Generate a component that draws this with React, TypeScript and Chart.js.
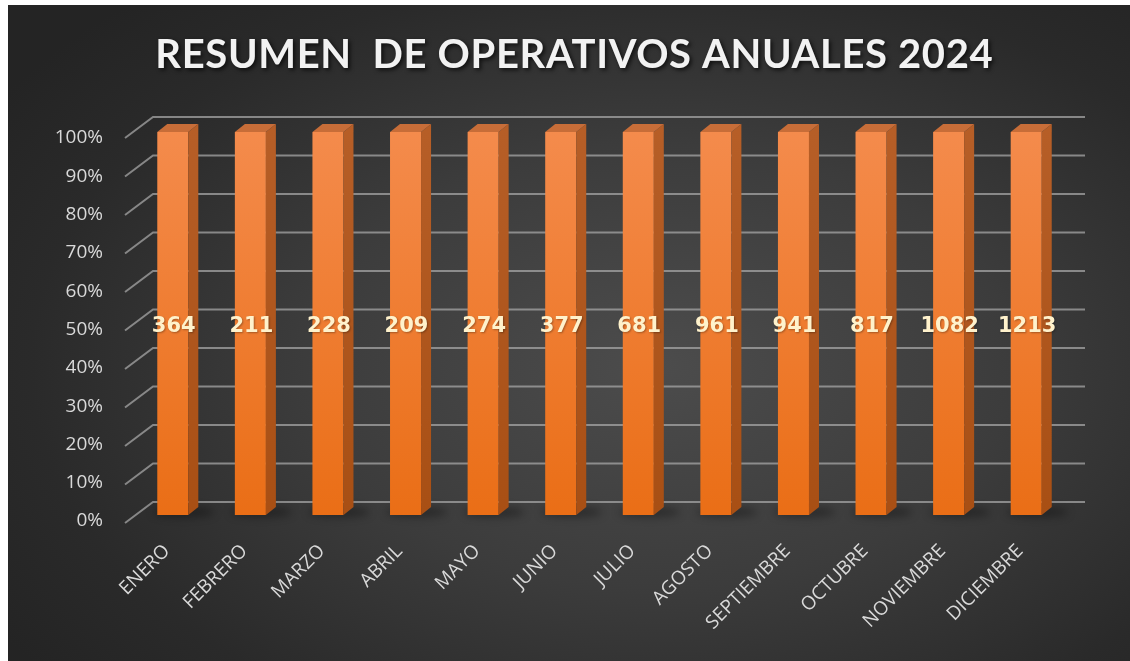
import React, { useEffect, useRef } from "react";
import { Chart, registerables } from "chart.js";

Chart.register(...registerables);

// ---- data ----
const months = [
  "ENERO",
  "FEBRERO",
  "MARZO",
  "ABRIL",
  "MAYO",
  "JUNIO",
  "JULIO",
  "AGOSTO",
  "SEPTIEMBRE",
  "OCTUBRE",
  "NOVIEMBRE",
  "DICIEMBRE",
];
const operativos = [364, 211, 228, 209, 274, 377, 681, 961, 941, 817, 1082, 1213];
const allSeries = [operativos];
const stackTotals = months.map((_, i) => allSeries.reduce((s, arr) => s + arr[i], 0));
const percentValues = operativos.map((v, i) => (v / stackTotals[i]) * 100);
const yTickStep = 10;
const titleText = "RESUMEN  DE OPERATIVOS ANUALES 2024";

const W = 1122;
const H = 656;

const DX = 10;
const DY = 8;

const bar3dPlugin = {
  id: "bar3d",
  beforeDraw(chart: any) {
    const { ctx } = chart;
    ctx.save();
    ctx.font = '700 40px Lato';
    const chars = titleText.length;
    const base = ctx.measureText(titleText).width;
    const ls = Math.max(0, (838 - base) / chars);
    (ctx as any).letterSpacing = ls + "px";
    ctx.textAlign = "center";
    ctx.textBaseline = "middle";
    ctx.fillStyle = "#F2F2F2";
    ctx.shadowColor = "rgba(0,0,0,0.7)";
    ctx.shadowBlur = 4;
    ctx.shadowOffsetX = 2;
    ctx.shadowOffsetY = 2;
    ctx.fillText(titleText, 566 + ls / 2, 50);
    ctx.restore();
  },
  beforeDatasetsDraw(chart: any) {
    const { ctx, scales } = chart;
    const y = scales.y;
    const area = chart.chartArea;
    ctx.save();
    ctx.strokeStyle = "rgba(165,165,165,0.75)";
    ctx.lineWidth = 2;
    y.ticks.forEach((t: any) => {
      const fy = y.getPixelForValue(t.value);
      const by = fy - 13 - 2 * (t.value / 100);
      ctx.beginPath();
      ctx.moveTo(area.left - 9, by + 21);
      ctx.lineTo(area.left + 19, by);
      ctx.lineTo(area.right + 20, by);
      ctx.stroke();
    });
    // base shadows
    const meta = chart.getDatasetMeta(0);
    meta.data.forEach((bar: any) => {
      const x1 = bar.x - bar.width / 2;
      const x2 = bar.x + bar.width / 2;
      ctx.save();
      ctx.filter = "blur(4px)";
      ctx.fillStyle = "rgba(0,0,0,0.35)";
      ctx.beginPath();
      ctx.ellipse((x1 + x2 + DX) / 2 + 6, bar.base - 3, (x2 - x1 + DX) / 2 + 10, 5, 0, 0, Math.PI * 2);
      ctx.fill();
      ctx.restore();
    });
    ctx.restore();
  },
  afterDatasetsDraw(chart: any) {
    const { ctx } = chart;
    const meta = chart.getDatasetMeta(0);
    ctx.save();
    meta.data.forEach((bar: any) => {
      const x1 = bar.x - bar.width / 2;
      const x2 = bar.x + bar.width / 2;
      const top = bar.y;
      const bottom = bar.base;
      // side face
      const sg = ctx.createLinearGradient(0, top, 0, bottom);
      sg.addColorStop(0, "#B65E27");
      sg.addColorStop(1, "#A84F14");
      ctx.fillStyle = sg;
      ctx.beginPath();
      ctx.moveTo(x2, top);
      ctx.lineTo(x2 + DX, top - DY);
      ctx.lineTo(x2 + DX, bottom - DY);
      ctx.lineTo(x2, bottom);
      ctx.closePath();
      ctx.fill();
      // top face
      ctx.fillStyle = "#C76D38";
      ctx.beginPath();
      ctx.moveTo(x1, top);
      ctx.lineTo(x1 + DX, top - DY);
      ctx.lineTo(x2 + DX, top - DY);
      ctx.lineTo(x2, top);
      ctx.closePath();
      ctx.fill();
    });
    // data labels
    ctx.font = 'bold 21px "DejaVu Sans"';
    ctx.textAlign = "center";
    ctx.textBaseline = "middle";
    ctx.fillStyle = "#FFF2CC";
    ctx.shadowColor = "rgba(0,0,0,0.3)";
    ctx.shadowBlur = 2;
    ctx.shadowOffsetX = 1;
    ctx.shadowOffsetY = 1;
    meta.data.forEach((bar: any, i: number) => {
      ctx.fillText(String(operativos[i]), bar.x + 1, (bar.y + bar.base) / 2 + 3);
    });
    ctx.restore();
  },
};

export default function App() {
  const ref = useRef<HTMLCanvasElement | null>(null);
  useEffect(() => {
    if (!ref.current) return;
    const chart = new Chart(ref.current, {
      type: "bar",
      data: {
        labels: months,
        datasets: [
          {
            label: "Operativos",
            data: percentValues,
            backgroundColor: (c: any) => {
              const area = c.chart.chartArea;
              if (!area) return "#ED7D31";
              const g = c.chart.ctx.createLinearGradient(0, area.top, 0, area.bottom);
              g.addColorStop(0, "#F48B4C");
              g.addColorStop(1, "#EA6E16");
              return g;
            },
            borderWidth: 0,
            barPercentage: 0.4,
            categoryPercentage: 1,
          },
        ],
      },
      options: {
        responsive: false,
        animation: false,
        layout: { padding: { left: 0, right: 65, top: 127, bottom: 0 } },
        plugins: {
          legend: { display: false },
          title: { display: false },
          tooltip: { enabled: false },
        },
        scales: {
          x: {
            grid: { display: false },
            border: { display: false },
            ticks: {
              color: "#D9D9D9",
              font: { family: '"Open Sans"', size: 19 },
              maxRotation: 45,
              minRotation: 45,
              autoSkip: false,
              padding: 17,
              labelOffset: -6,
            },
            afterFit: (s: any) => {
              s.height = 146;
            },
          },
          y: {
            min: 0,
            max: 100,
            grid: { display: false, drawTicks: false },
            border: { display: false },
            ticks: {
              stepSize: yTickStep,
              color: "#D9D9D9",
              font: { family: '"Open Sans"', size: 19 },
              padding: 31,
              labelOffset: 6,
              callback: (v: any) => v + "%",
            },
            afterFit: (s: any) => {
              s.width = 126;
            },
          },
        },
      },
      plugins: [bar3dPlugin],
    });
    return () => chart.destroy();
  }, []);
  return (
    <div
      style={{
        position: "fixed",
        left: 8,
        top: 5,
        width: W,
        height: H,
        background:
          "radial-gradient(ellipse 70% 75% at 58% 55%, #4c4c4c 0%, #3c3c3c 45%, #2a2a2a 80%, #242424 100%)",
      }}
    >
      <canvas ref={ref} width={W} height={H} style={{ display: "block" }} />
    </div>
  );
}
